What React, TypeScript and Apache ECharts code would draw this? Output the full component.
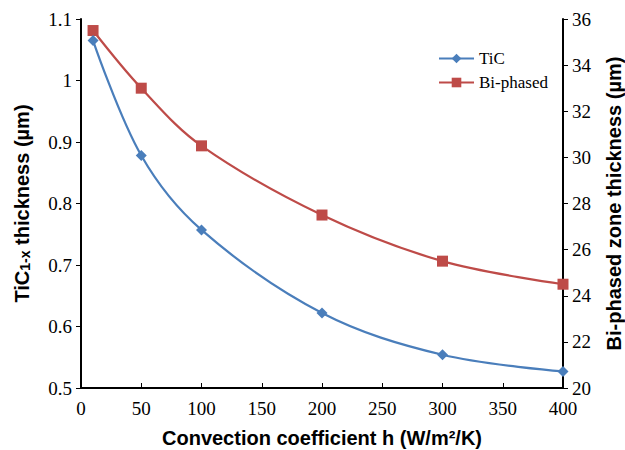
import React, { useEffect, useRef } from "react";
import * as echarts from "echarts";

// Convection coefficient h (W/m²/K)
const hValues = [10, 50, 100, 200, 300, 400];
// TiC1-x layer thickness (µm)
const ticThickness = [1.065, 0.878, 0.757, 0.622, 0.554, 0.527];
// Bi-phased zone thickness (µm)
const biPhasedThickness = [35.5, 33.0, 30.5, 27.5, 25.5, 24.5];

const serif = "Liberation Serif, Times New Roman, serif";
const sans = "Liberation Sans, Arial, sans-serif";

export default function App() {
  const ref = useRef<HTMLDivElement>(null);

  useEffect(() => {
    if (!ref.current) return;
    const chart = echarts.init(ref.current, undefined, { renderer: "svg" });
    const axisLine = { show: true, lineStyle: { color: "#000", width: 2 } };
    const tickLabel = { color: "#000", fontFamily: serif, fontSize: 19 };
    const titleStyle = { fontFamily: sans, fontWeight: "bold", fontSize: 20, color: "#000" };
    chart.setOption({
      animation: false,
      backgroundColor: "#fff",
      grid: { left: 81, right: 62, top: 19, bottom: 62, containLabel: false, outerBoundsMode: "none" },
      legend: {
        orient: "vertical",
        left: 433,
        top: 45,
        itemWidth: 35,
        itemHeight: 12,
        itemGap: 7,
        textStyle: { fontFamily: serif, fontSize: 17, color: "#000" },
        data: ["TiC", "Bi-phased"],
      },
      xAxis: {
        type: "value",
        min: 0,
        max: 400,
        interval: 50,
        name: "Convection coefficient h (W/m²/K)",
        nameLocation: "middle",
        nameGap: 40,
        nameTextStyle: titleStyle,
        axisLine,
        axisTick: { show: true, inside: true, length: 5, lineStyle: { color: "#000", width: 1 } },
        axisLabel: { ...tickLabel, margin: 11 },
        splitLine: { show: false },
      },
      yAxis: [
        {
          type: "value",
          min: 0.5,
          max: 1.1,
          interval: 0.1,
          position: "left",
          name: "{a|TiC}{b|1-x}{a| thickness (µm)}",
          nameLocation: "middle",
          nameGap: 49,
          nameTextStyle: {
            rich: {
              a: titleStyle,
              b: { fontFamily: sans, fontWeight: "bold", fontSize: 14, color: "#000", padding: [7, 0, 0, 0] },
            },
          },
          axisLine,
          axisTick: { show: true, length: 5, lineStyle: { color: "#000", width: 1 } },
          axisLabel: { ...tickLabel, margin: 9, formatter: (v: number) => String(Number(v.toFixed(1))) },
          splitLine: { show: false },
        },
        {
          type: "value",
          min: 20,
          max: 36,
          interval: 2,
          position: "right",
          name: "Bi-phased zone thickness (µm)",
          nameLocation: "middle",
          nameGap: 41,
          nameRotate: 90,
          nameTextStyle: titleStyle,
          axisLine,
          axisTick: { show: true, length: 5, lineStyle: { color: "#000", width: 1 } },
          axisLabel: { ...tickLabel, margin: 9 },
          splitLine: { show: false },
        },
      ],
      series: [
        {
          name: "TiC",
          type: "line",
          yAxisIndex: 0,
          smooth: 0.35,
          symbol: "diamond",
          symbolSize: 11,
          color: "#4a7ebb",
          lineStyle: { width: 2.2, color: "#4a7ebb" },
          itemStyle: { color: "#4a7ebb" },
          data: hValues.map((h, i) => [h, ticThickness[i]]),
          z: 3,
        },
        {
          name: "Bi-phased",
          type: "line",
          yAxisIndex: 1,
          smooth: 0.35,
          symbol: "rect",
          symbolSize: 11,
          color: "#be4b48",
          lineStyle: { width: 2.2, color: "#be4b48" },
          itemStyle: { color: "#be4b48" },
          data: hValues.map((h, i) => [h, biPhasedThickness[i]]),
          z: 2,
        },
      ],
    });
    return () => chart.dispose();
  }, []);

  return <div ref={ref} style={{ width: 625, height: 450, position: "absolute", left: 0, top: 0 }} />;
}
